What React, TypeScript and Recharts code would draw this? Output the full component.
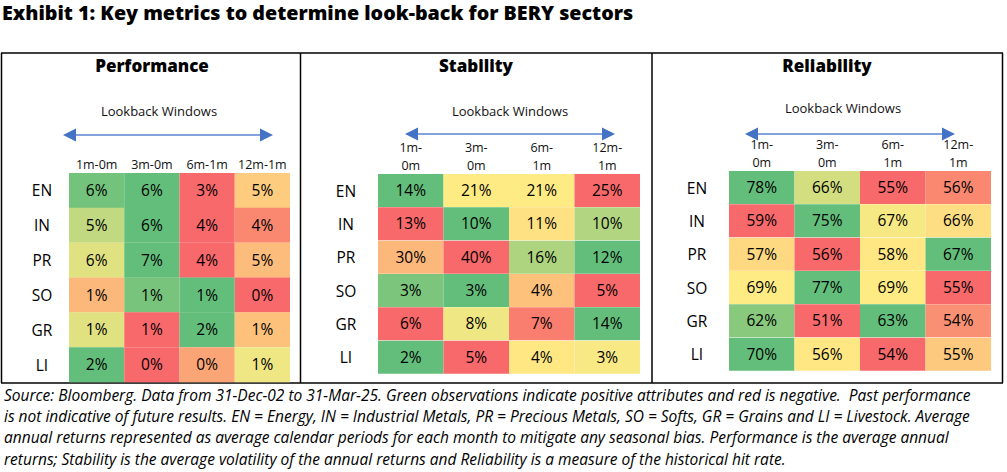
import { BarChart, Bar, XAxis, YAxis, Cell, LabelList } from 'recharts'

const FONT = "'Open Sans', 'Noto Sans', sans-serif"

const ROWS = ['EN', 'IN', 'PR', 'SO', 'GR', 'LI']
const COLS_ONE_LINE = [['1m-0m'], ['3m-0m'], ['6m-1m'], ['12m-1m']]
const COLS_TWO_LINE = [['1m-', '0m'], ['3m-', '0m'], ['6m-', '1m'], ['12m-', '1m']]

// displayed values (%)
const PERF_VALUES = [
  [6, 6, 3, 5],
  [5, 6, 4, 4],
  [6, 7, 4, 5],
  [1, 1, 1, 0],
  [1, 1, 2, 1],
  [2, 0, 0, 1],
]
const STAB_VALUES = [
  [14, 21, 21, 25],
  [13, 10, 11, 10],
  [30, 40, 16, 12],
  [3, 3, 4, 5],
  [6, 8, 7, 14],
  [2, 5, 4, 3],
]
const REL_VALUES = [
  [78, 66, 55, 56],
  [59, 75, 67, 66],
  [57, 56, 58, 67],
  [69, 77, 69, 55],
  [62, 51, 63, 54],
  [70, 56, 54, 55],
]

// position on the red (0) - yellow (0.5) - green (1) scale, read from the cell shading
const PERF_SCALE = [
  [0.95, 1, 0, 0.38],
  [0.7, 1, 0, 0.12],
  [0.6, 1, 0, 0.32],
  [0.3, 0.93, 1, 0],
  [0.6, 0, 1, 0.34],
  [1, 0, 0.23, 0.55],
]
const STAB_SCALE = [
  [1, 0.5, 0.5, 0],
  [0, 1, 0.46, 0.75],
  [0.3, 0, 0.76, 1],
  [0.92, 1, 0.34, 0],
  [0, 0.55, 0.08, 1],
  [1, 0, 0.49, 0.52],
]
const REL_SCALE = [
  [1, 0.64, 0, 0.12],
  [0, 1, 0.53, 0.45],
  [0.43, 0, 0.49, 1],
  [0.5, 1, 0.5, 0],
  [0.88, 0, 1, 0.15],
  [1, 0.49, 0, 0.37],
]

const CAPTION = [
  'Source: Bloomberg. Data from 31-Dec-02 to 31-Mar-25. Green observations indicate positive attributes and red is negative.  Past performance',
  'is not indicative of future results. EN = Energy, IN = Industrial Metals, PR = Precious Metals, SO = Softs, GR = Grains and LI = Livestock. Average',
  'annual returns represented as average calendar periods for each month to mitigate any seasonal bias. Performance is the average annual',
  'returns; Stability is the average volatility of the annual returns and Reliability is a measure of the historical hit rate.',
]

const RED = [248, 105, 107]
const YELLOW = [255, 235, 132]
const GREEN = [99, 190, 123]

function scaleColor(t: number) {
  const [a, b, u] = t < 0.5 ? [RED, YELLOW, t * 2] : [YELLOW, GREEN, (t - 0.5) * 2]
  const c = a.map((v, i) => Math.round(v + (b[i] - v) * u))
  return `rgb(${c[0]},${c[1]},${c[2]})`
}

interface PanelProps {
  values: number[][]
  scale: number[][]
  cols: string[][]
  left: number
  top: number
  width: number
  height: number
  plotLeft: number
  plotTop: number
  right: number
  bottom: number
  rowShift: number
}

function HeatPanel(p: PanelProps) {
  const table = ROWS.map((row, i) => ({
    row,
    w0: 1, w1: 1, w2: 1, w3: 1,
    v0: p.values[i][0], v1: p.values[i][1], v2: p.values[i][2], v3: p.values[i][3],
  }))
  return (
    <div style={{ position: 'absolute', left: p.left, top: p.top }}>
      <BarChart
        width={p.width}
        height={p.height}
        data={table}
        layout="vertical"
        barCategoryGap={0}
        barGap={0}
        margin={{ left: 0, top: 0, right: p.right, bottom: p.bottom }}
      >
        <XAxis
          type="number"
          orientation="top"
          domain={[0, 4]}
          ticks={[0.5, 1.5, 2.5, 3.5]}
          interval={0}
          height={p.plotTop}
          axisLine={false}
          tickLine={false}
          tick={(t: any) => {
            const lines = p.cols[Math.floor(t.payload.value)]
            return (
              <text x={t.x} y={t.y} textAnchor="middle" fontSize={12.5} fill="#111" fontFamily={FONT}>
                {lines.map((l, k) => (
                  <tspan key={k} x={t.x} y={t.y - 1 - (lines.length - 1 - k) * 18} dominantBaseline="central">
                    {l}
                  </tspan>
                ))}
              </text>
            )
          }}
        />
        <YAxis
          type="category"
          dataKey="row"
          width={p.plotLeft}
          axisLine={false}
          tickLine={false}
          tick={(t: any) => (
            <text
              x={t.x - p.rowShift}
              y={t.y}
              textAnchor="middle"
              dominantBaseline="central"
              fontSize={15.5}
              fill="#000"
              fontFamily={FONT}
            >
              {t.payload.value}
            </text>
          )}
        />
        {[0, 1, 2, 3].map((c) => (
          <Bar key={c} dataKey={`w${c}`} stackId="s" isAnimationActive={false}>
            {ROWS.map((r, i) => (
              <Cell key={r} fill={scaleColor(p.scale[i][c])} />
            ))}
            <LabelList
              dataKey={`v${c}`}
              position="center"
              formatter={(v: any) => `${v}%`}
              fill="#000"
              fontSize={15.5}
              fontFamily={FONT}
            />
          </Bar>
        ))}
      </BarChart>
    </div>
  )
}

function Arrow({ x1, x2, y }: { x1: number; x2: number; y: number }) {
  return (
    <g>
      <line x1={x1 + 10} x2={x2 - 10} y1={y} y2={y} stroke="#5B83CF" strokeWidth={1.6} />
      <polygon points={`${x1},${y} ${x1 + 13},${y - 6.5} ${x1 + 13},${y + 6.5}`} fill="#4472C4" />
      <polygon points={`${x2},${y} ${x2 - 13},${y - 6.5} ${x2 - 13},${y + 6.5}`} fill="#4472C4" />
    </g>
  )
}

const abs = (left: number, top: number, extra: any = {}) => ({ position: 'absolute' as const, left, top, ...extra })

export default function App() {
  return (
    <div style={{ position: 'absolute', left: 0, top: 0, width: 1007, height: 472, background: '#fff', overflow: 'hidden', fontFamily: FONT, color: '#000' }}>
      <div style={abs(2, 0, { fontSize: 19.7, fontWeight: 800, lineHeight: '25px', whiteSpace: 'nowrap' })}>
        Exhibit 1: Key metrics to determine look-back for BERY sectors
      </div>

      <svg width={1007} height={472} style={abs(0, 0)}>
        <g stroke="#000" strokeWidth={1.5}>
          <line x1={1} x2={1003} y1={53} y2={53} />
          <line x1={1} x2={1003} y1={383} y2={383} />
          <line x1={1.5} x2={1.5} y1={53} y2={383} />
          <line x1={300.5} x2={300.5} y1={53} y2={383} />
          <line x1={652} x2={652} y1={53} y2={383} />
          <line x1={1002.5} x2={1002.5} y1={53} y2={383} />
        </g>
        <Arrow x1={63} x2={273} y={135} />
        <Arrow x1={405} x2={615} y={134} />
        <Arrow x1={745} x2={955} y={134} />
      </svg>

      {[
        { t: 'Performance', x: 152 },
        { t: 'Stability', x: 476 },
        { t: 'Reliability', x: 827 },
      ].map((h) => (
        <div key={h.t} style={abs(h.x - 100, 54, { width: 200, textAlign: 'center', fontSize: 17, fontWeight: 800, lineHeight: '24px' })}>
          {h.t}
        </div>
      ))}
      {[
        { x: 159, y: 111 },
        { x: 510, y: 111 },
        { x: 843, y: 108 },
      ].map((h, i) => (
        <div key={i} style={abs(h.x - 100, h.y - 9, { width: 200, textAlign: 'center', fontSize: 13, lineHeight: '18px', color: '#111' })}>
          Lookback Windows
        </div>
      ))}

      <HeatPanel values={PERF_VALUES} scale={PERF_SCALE} cols={COLS_ONE_LINE}
        left={1} top={53} width={300} height={330} plotLeft={68} plotTop={120} right={11} bottom={1} rowShift={19} />
      <HeatPanel values={STAB_VALUES} scale={STAB_SCALE} cols={COLS_TWO_LINE}
        left={301} top={53} width={351} height={330} plotLeft={77} plotTop={121} right={12} bottom={9} rowShift={24} />
      <HeatPanel values={REL_VALUES} scale={REL_SCALE} cols={COLS_TWO_LINE}
        left={653} top={53} width={350} height={330} plotLeft={76} plotTop={118} right={12} bottom={12} rowShift={24} />

      {CAPTION.map((line, i) => (
        <div key={i} style={abs(4, 384.5 + i * 21.4, { fontSize: 15.5, fontStyle: 'italic', lineHeight: '21px', whiteSpace: 'pre' })}>
          {line}
        </div>
      ))}
    </div>
  )
}
